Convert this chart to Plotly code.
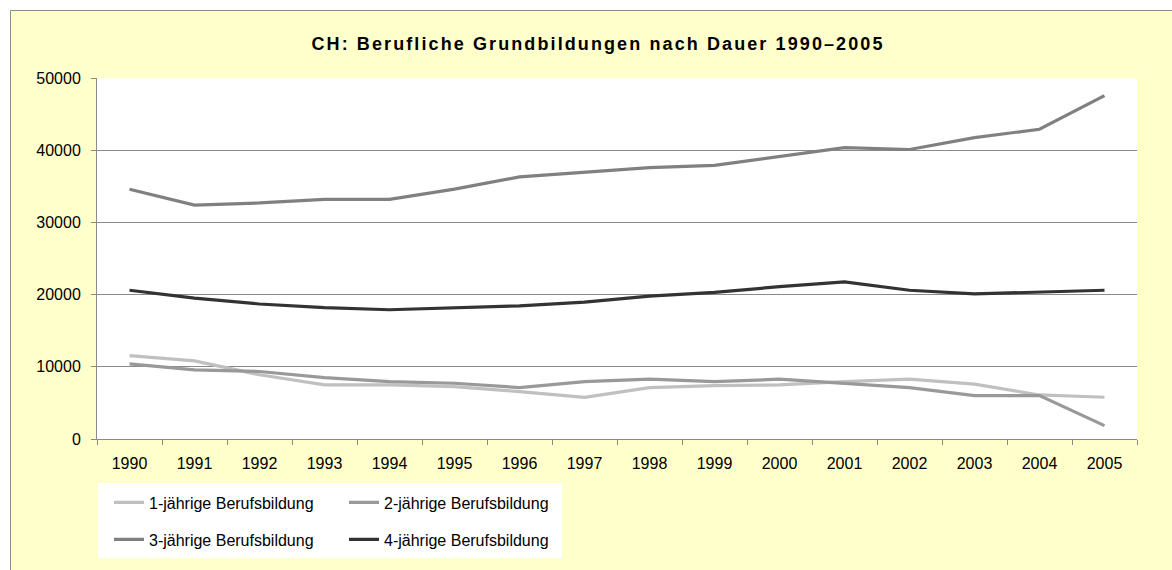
import plotly.graph_objects as go

# ---- data ----
years = ["1990", "1991", "1992", "1993", "1994", "1995", "1996", "1997",
         "1998", "1999", "2000", "2001", "2002", "2003", "2004", "2005"]
einjaehrig = [11550, 10820, 8900, 7490, 7490, 7250, 6560, 5780,
              7120, 7400, 7490, 7950, 8280, 7590, 6100, 5780]
zweijaehrig = [10400, 9570, 9350, 8500, 7950, 7720, 7120, 7950,
               8280, 7950, 8280, 7720, 7120, 6010, 6010, 1850]
dreijaehrig = [34600, 32400, 32700, 33200, 33200, 34600, 36300, 37000,
               37600, 37900, 39150, 40350, 40100, 41750, 42900, 47550]
vierjaehrig = [20600, 19500, 18700, 18200, 17900, 18150, 18450, 18950,
               19800, 20300, 21100, 21750, 20600, 20100, 20350, 20600]
series_names = ["1-jährige Berufsbildung", "2-jährige Berufsbildung",
                "3-jährige Berufsbildung", "4-jährige Berufsbildung"]
y_ticks = [0, 10000, 20000, 30000, 40000, 50000]
title_text = "CH: Berufliche Grundbildungen nach Dauer 1990–2005"

# ---- layout geometry ----
W, H = 1172, 570
ML, MR, MT, MB = 97, 35, 78, 131
PW, PH = W - ML - MR, H - MT - MB


def px_x(p):
    return (p - ML) / PW


def px_y(p):
    return (H - MB - p) / PH


FONT = "Liberation Sans, Arial, sans-serif"
colors = ["#c0c0c0", "#999999", "#808080", "#333333"]
values = [einjaehrig, zweijaehrig, dreijaehrig, vierjaehrig]
legends = ["legend", "legend", "legend2", "legend2"]

fig = go.Figure()
for name, vals, col, lg in zip(series_names, values, colors, legends):
    fig.add_trace(go.Scatter(
        x=years, y=vals, name=name, mode="lines",
        line=dict(color=col, width=3.2),
        legend=lg,
    ))

legend_common = dict(
    orientation="h", xanchor="left", yanchor="top",
    bgcolor="rgba(0,0,0,0)", borderwidth=0,
    font=dict(family=FONT, size=16, color="#000000"),
    entrywidth=190, entrywidthmode="pixels",
    itemclick=False, itemdoubleclick=False,
)

shapes = [
    # white page strip left/top of chart border
    dict(type="rect", xref="paper", yref="paper", layer="below",
         x0=px_x(-5), x1=px_x(10), y0=px_y(H + 5), y1=px_y(-5),
         fillcolor="white", line=dict(width=0)),
    dict(type="rect", xref="paper", yref="paper", layer="below",
         x0=px_x(-5), x1=px_x(W + 5), y0=px_y(10), y1=px_y(-5),
         fillcolor="white", line=dict(width=0)),
    # chart border
    dict(type="line", xref="paper", yref="paper", layer="below",
         x0=px_x(10.5), x1=px_x(10.5), y0=px_y(10.5), y1=px_y(H + 5),
         line=dict(color="#8a8a8a", width=1)),
    dict(type="line", xref="paper", yref="paper", layer="below",
         x0=px_x(10.5), x1=px_x(W + 5), y0=px_y(10.5), y1=px_y(10.5),
         line=dict(color="#8a8a8a", width=1)),
    # legend white box
    dict(type="rect", xref="paper", yref="paper", layer="below",
         x0=px_x(98), x1=px_x(562), y0=px_y(558), y1=px_y(483),
         fillcolor="white", line=dict(width=0)),
]

fig.update_layout(
    width=W, height=H,
    margin=dict(l=ML, r=MR, t=MT, b=MB, pad=0),
    paper_bgcolor="#ffffcc",
    plot_bgcolor="#ffffff",
    font=dict(family=FONT, size=16, color="#000000"),
    title=dict(text="<b>" + title_text + "</b>",
               font=dict(family=FONT, size=18, color="#000000"),
               xref="container", yref="container",
               x=598 / W, xanchor="center",
               y=1 - 44 / H, yanchor="middle"),
    showlegend=True,
    legend=dict(x=px_x(109), y=px_y(485.5), **legend_common),
    legend2=dict(x=px_x(109), y=px_y(522.5), **legend_common),
    shapes=shapes,
    hovermode=False,
)

fig.update_xaxes(
    type="category", range=[-0.5, 15.5],
    tickson="boundaries", ticks="outside", ticklen=5, tickwidth=1,
    tickcolor="#8a8a8a", showline=True, linecolor="#8a8a8a", linewidth=1,
    showgrid=False, zeroline=False,
    tickfont=dict(family=FONT, size=16, color="#000000"),
    ticklabelstandoff=10,
)
fig.update_yaxes(
    range=[0, 50000], tickmode="array", tickvals=y_ticks,
    ticktext=[str(v) for v in y_ticks],
    ticks="outside", ticklen=5, tickwidth=1, tickcolor="#8a8a8a",
    showline=True, linecolor="#8a8a8a", linewidth=1,
    showgrid=True, gridcolor="#8a8a8a", gridwidth=1,
    zeroline=False,
    tickfont=dict(family=FONT, size=16, color="#000000"),
    ticklabelstandoff=7,
)

post = """
document.body.style.margin = '0';
document.body.style.overflow = 'hidden';
var gd = document.getElementById('{plot_id}');
function spaceTitle(){
  gd.querySelectorAll('.gtitle').forEach(function(t){ t.style.letterSpacing = '2.1px'; });
}
spaceTitle();
if (gd.on) { gd.on('plotly_afterplot', spaceTitle); }
"""

fig.write_html("out.html", post_script=post,
               config={"displayModeBar": False, "staticPlot": True})
